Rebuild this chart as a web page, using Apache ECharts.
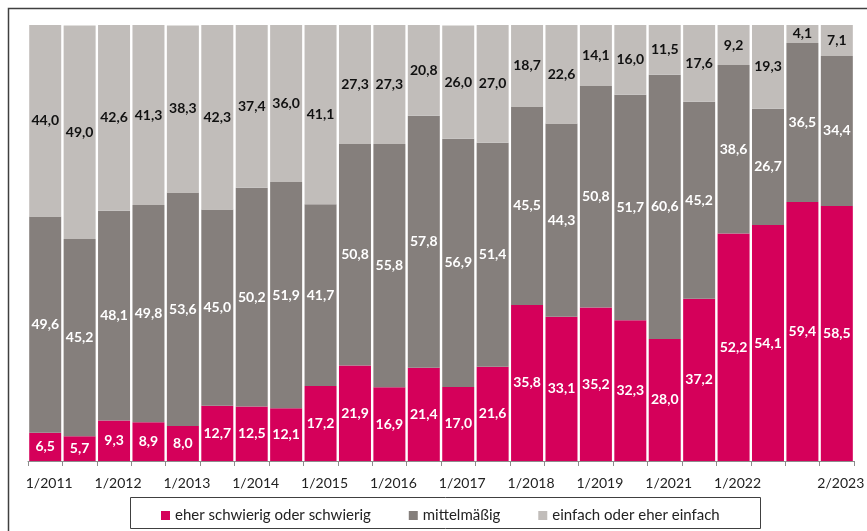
<!DOCTYPE html>
<html>
<head>
<meta charset="utf-8">
<script src="https://cdn.jsdelivr.net/npm/echarts@6/dist/echarts.min.js"></script>
<style>
html,body{margin:0;padding:0;background:#fff;}
#c{width:867px;height:531px;}
</style>
</head>
<body>
<div id="c"></div>
<script>
var categories = ["1/2011","2/2011","1/2012","2/2012","1/2013","2/2013","1/2014","2/2014","1/2015","2/2015","1/2016","2/2016","1/2017","2/2017","1/2018","2/2018","1/2019","2/2019","1/2021","2/2021","1/2022","2/2022","1/2023","2/2023"];
var schwierig = [6.5,5.7,9.3,8.9,8.0,12.7,12.5,12.1,17.2,21.9,16.9,21.4,17.0,21.6,35.8,33.1,35.2,32.3,28.0,37.2,52.2,54.1,59.4,58.5];
var mittel = [49.6,45.2,48.1,49.8,53.6,45.0,50.2,51.9,41.7,50.8,55.8,57.8,56.9,51.4,45.5,44.3,50.8,51.7,60.6,45.2,38.6,26.7,36.5,34.4];
var einfach = [44.0,49.0,42.6,41.3,38.3,42.3,37.4,36.0,41.1,27.3,27.3,20.8,26.0,27.0,18.7,22.6,14.1,16.0,11.5,17.6,9.2,19.3,4.1,7.1];
var seriesNames = ["eher schwierig oder schwierig","mittelmäßig","einfach oder eher einfach"];
var shownLabels = [0,2,4,6,8,10,12,14,16,18,20,23];

var FONT = "Lato";
function fmt(p){ return p.value.toFixed(1).replace('.', ','); }
function mk(name, data, color, labelColor){
  return {
    name: name, type: 'bar', stack: 'total', data: data, barWidth: 32,
    itemStyle: {color: color},
    label: {show: true, position: 'inside', formatter: fmt, color: labelColor,
            fontFamily: FONT, fontWeight: 'bold', fontSize: 14},
    emphasis: {disabled: true}
  };
}
var chart = echarts.init(document.getElementById('c'), null, {renderer: 'canvas'});
chart.setOption({
  animation: false,
  backgroundColor: '#fff',
  grid: {left: 28, right: -1, top: 25, bottom: 70, containLabel: false},
  xAxis: {
    type: 'category', data: categories,
    axisLine: {lineStyle: {color: '#8c8c8c', width: 1}},
    axisTick: {show: true, interval: 0, length: 5, lineStyle: {color: '#8c8c8c'}},
    axisLabel: {
      interval: function(i){ return shownLabels.indexOf(i) >= 0; },
      color: '#222', fontFamily: FONT, fontSize: 14, margin: 15,
      padding: [0, 0, 0, 8]
    }
  },
  yAxis: {type: 'value', min: 0, max: 100, show: false, splitLine: {show: false}},
  legend: {
    data: seriesNames, left: 156, top: 503, icon: 'rect', itemWidth: 9, itemHeight: 9,
    itemGap: 38, textStyle: {fontFamily: FONT, fontSize: 15, color: '#222'}
  },
  graphic: [
    {type: 'rect', shape: {x: 8.5, y: 8.5, width: 880, height: 540}, style: {fill: 'none', stroke: '#404040', lineWidth: 1.5}, silent: true},
    {type: 'rect', shape: {x: 130.5, y: 497.5, width: 630, height: 31}, style: {fill: 'none', stroke: '#404040', lineWidth: 1}, silent: true}
  ],
  series: [
    mk(seriesNames[0], schwierig, '#D5005A', '#ffffff'),
    mk(seriesNames[1], mittel, '#857F7C', '#ffffff'),
    mk(seriesNames[2], einfach, '#C1BDBA', '#111111')
  ]
});
</script>
</body>
</html>
